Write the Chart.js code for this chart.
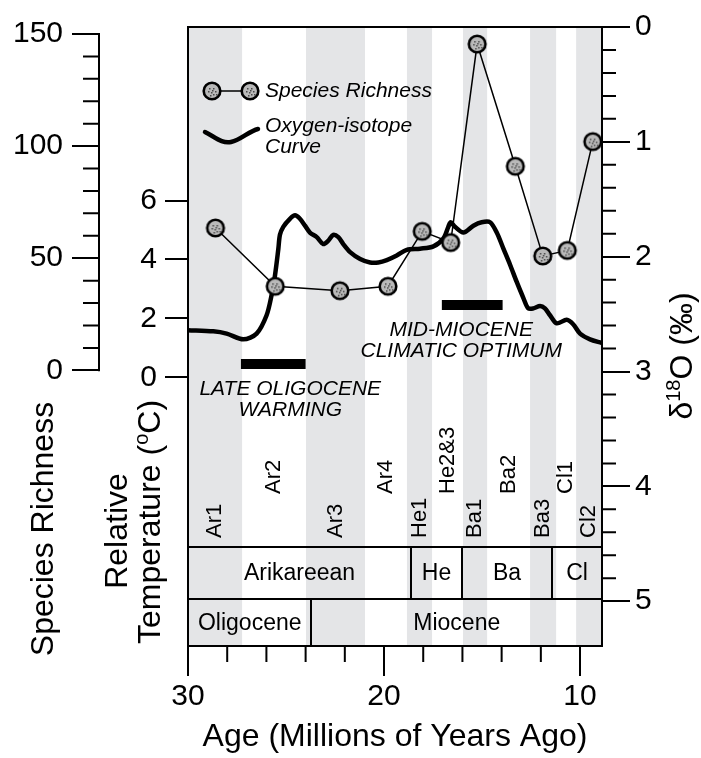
<!DOCTYPE html>
<html>
<head>
<meta charset="utf-8">
<title>Species richness and the oxygen-isotope curve, 30-9 Ma</title>
<script src="https://cdn.jsdelivr.net/npm/chart.js@4.4.1/dist/chart.umd.min.js"></script>
<style>
  html, body { margin: 0; padding: 0; background: #fff; }
  canvas { display: block; }
</style>
</head>
<body>
<canvas id="chart" width="701" height="758"></canvas>
<script>
// values (ages in Ma)
var richnessAge = [28.6, 25.55, 22.25, 19.8, 18.05, 16.6, 15.25, 13.3, 11.9, 10.65, 9.35];
var richnessValue = [63.5, 37.5, 35.5, 37.5, 62, 57, 145.5, 91, 51, 53.5, 102];

var isotopeAge = [30.0, 28.71, 28.03, 27.18, 26.5, 25.99, 25.73, 25.56, 25.39, 25.31, 25.14, 24.8, 24.54,
  24.29, 24.03, 23.78, 23.43, 23.1, 22.84, 22.59, 22.33, 22.08, 21.73, 21.22, 20.71, 20.29, 19.86, 19.35,
  18.84, 18.16, 17.48, 16.97, 16.72, 16.6, 16.38, 15.95, 15.44, 15.02, 14.59, 14.25, 13.91, 13.57, 13.23,
  12.89, 12.64, 12.38, 12.04, 11.79, 11.53, 11.19, 10.68, 10.34, 10.0, 9.49, 8.9];
var isotopeD18O = [2.64, 2.65, 2.67, 2.72, 2.67, 2.51, 2.33, 2.16, 1.93, 1.81, 1.74, 1.67, 1.64,
  1.67, 1.73, 1.79, 1.83, 1.89, 1.86, 1.81, 1.83, 1.89, 1.96, 2.02, 2.05, 2.05, 2.03, 1.99,
  1.94, 1.93, 1.91, 1.84, 1.74, 1.70, 1.74, 1.79, 1.73, 1.70, 1.70, 1.79, 1.93, 2.07, 2.22,
  2.36, 2.45, 2.45, 2.43, 2.45, 2.51, 2.58, 2.55, 2.59, 2.67, 2.72, 2.75];

// warming events
var eventNames = [["LATE OLIGOCENE", "WARMING"], ["MID-MIOCENE", "CLIMATIC OPTIMUM"]];
var eventStart = [27.3, 17.05];
var eventEnd = [24.0, 13.95];

// land mammal age subdivisions (older edge of each)
var zoneNames = ["Ar1", "Ar2", "Ar3", "Ar4", "He1", "He2&3", "Ba1", "Ba2", "Ba3", "Cl1", "Cl2"];
var zoneEdges = [30, 27.24, 23.98, 20.97, 18.83, 17.55, 15.97, 14.74, 12.55, 11.22, 10.2];
var stageNames = ["Arikareean", "He", "Ba", "Cl"];
var stageEdges = [30, 18.62, 16.02, 11.43];
var epochNames = ["Oligocene", "Miocene"];
var epochEdges = [30, 23.7];

var ageTicks = [30, 20, 10];
var tempTicks = [0, 2, 4, 6];
var richTicks = [0, 50, 100, 150];
var d18oTicks = [0, 1, 2, 3, 4, 5];

var FONT = '"Liberation Sans", Arial, sans-serif';
Chart.defaults.font.family = FONT;
Chart.defaults.color = '#000';

function onlyTicks(list) {
  return function(scale) {
    scale.ticks = list.map(function(v) { return { value: v }; });
  };
}

// speckled circle used for the richness points
function makeMarker() {
  var c = document.createElement('canvas');
  c.width = 22; c.height = 22;
  var g = c.getContext('2d');
  g.beginPath();
  g.arc(11, 11, 8.3, 0, Math.PI * 2);
  g.fillStyle = '#b9b9b9';
  g.fill();
  g.lineWidth = 2.6;
  g.strokeStyle = '#000';
  g.stroke();
  g.fillStyle = '#4a4a4a';
  [[8, 8], [12, 8], [14, 11], [10, 12], [7, 11], [12, 14], [9, 15], [15, 14], [11, 10]].forEach(function(d) {
    g.fillRect(d[0], d[1], 1.5, 1.5);
  });
  return c;
}
var marker = makeMarker();

var richnessPoints = richnessAge.map(function(a, i) { return { x: a, y: richnessValue[i] }; });
var isotopePoints = isotopeAge.map(function(a, i) { return { x: a, y: isotopeD18O[i] }; });

// event bars drawn at a fixed relative temperature
var barTemp = [0.45, 2.45];
var eventSets = eventStart.map(function(s, i) {
  return {
    label: eventNames[i].join(' '),
    data: [{ x: s, y: barTemp[i] }, { x: eventEnd[i], y: barTemp[i] }],
    yAxisID: 'yT',
    showLine: true,
    borderColor: '#000',
    borderWidth: 10,
    borderCapStyle: 'butt',
    pointRadius: 0,
    order: 1
  };
});

function drawRotated(ctx, parts, bx, cy) {
  ctx.save();
  var total = 0;
  parts.forEach(function(p) { ctx.font = p.font; p.w = ctx.measureText(p.text).width; total += p.w; });
  ctx.translate(bx, cy);
  ctx.rotate(-Math.PI / 2);
  ctx.textAlign = 'left';
  ctx.textBaseline = 'alphabetic';
  var x = -total / 2;
  parts.forEach(function(p) {
    ctx.font = p.font;
    ctx.fillText(p.text, x, p.rise ? -p.rise : 0);
    x += p.w;
  });
  ctx.restore();
}

var figurePlugin = {
  id: 'figure',
  beforeDraw: function(chart) {
    var ctx = chart.ctx, a = chart.chartArea, xs = chart.scales.x;
    ctx.save();
    ctx.fillStyle = '#fff';
    ctx.fillRect(0, 0, chart.width, chart.height);
    ctx.fillStyle = '#e4e5e7';
    for (var i = 0; i < zoneEdges.length; i += 2) {
      var x0 = xs.getPixelForValue(zoneEdges[i]);
      var x1 = xs.getPixelForValue(i + 1 < zoneEdges.length ? zoneEdges[i + 1] : xs.min);
      ctx.fillRect(x0, a.top, x1 - x0, a.bottom - a.top);
    }
    ctx.restore();
  },
  afterDraw: function(chart) {
    var ctx = chart.ctx, a = chart.chartArea, xs = chart.scales.x;
    var yR = chart.scales.yR, yD = chart.scales.yD;
    ctx.save();
    ctx.strokeStyle = '#000';
    ctx.fillStyle = '#000';
    ctx.lineWidth = 2;

    // top frame
    ctx.beginPath();
    ctx.moveTo(a.left, a.top);
    ctx.lineTo(a.right, a.top);
    ctx.stroke();

    // stage and epoch rows
    var r1 = a.bottom - 99, r2 = a.bottom - 47;
    ctx.beginPath();
    ctx.moveTo(a.left, r1); ctx.lineTo(a.right, r1);
    ctx.moveTo(a.left, r2); ctx.lineTo(a.right, r2);
    stageEdges.slice(1).forEach(function(e) {
      var x = Math.round(xs.getPixelForValue(e));
      ctx.moveTo(x, r1); ctx.lineTo(x, r2);
    });
    epochEdges.slice(1).forEach(function(e) {
      var x = Math.round(xs.getPixelForValue(e));
      ctx.moveTo(x, r2); ctx.lineTo(x, a.bottom);
    });
    ctx.stroke();

    ctx.font = '23px ' + FONT;
    ctx.textAlign = 'center';
    ctx.textBaseline = 'middle';
    stageNames.forEach(function(n, i) {
      var e = i + 1 < stageEdges.length ? stageEdges[i + 1] : xs.min;
      var cx = (xs.getPixelForValue(stageEdges[i]) + xs.getPixelForValue(e)) / 2;
      ctx.fillText(n, cx, (r1 + r2) / 2 + 1);
    });
    epochNames.forEach(function(n, i) {
      var e = i + 1 < epochEdges.length ? epochEdges[i + 1] : xs.min;
      var cx = (xs.getPixelForValue(epochEdges[i]) + xs.getPixelForValue(e)) / 2;
      ctx.fillText(n, cx, (r2 + a.bottom) / 2 + 1);
    });

    // subdivision labels, rotated
    ctx.font = '22px ' + FONT;
    zoneNames.forEach(function(n, i) {
      var e = i + 1 < zoneEdges.length ? zoneEdges[i + 1] : xs.min;
      var cx = (xs.getPixelForValue(zoneEdges[i]) + xs.getPixelForValue(e)) / 2;
      var by = i % 2 === 0 ? a.bottom - 108 : a.bottom - 152;
      ctx.save();
      ctx.translate(cx, by);
      ctx.rotate(-Math.PI / 2);
      ctx.textAlign = 'left';
      ctx.textBaseline = 'middle';
      ctx.fillText(n, 0, 0);
      ctx.restore();
    });

    // event captions under the bars
    ctx.font = 'italic 21px ' + FONT;
    ctx.textAlign = 'center';
    var shift = [17, -11];
    eventNames.forEach(function(lines, i) {
      var pts = chart.getDatasetMeta(i + 2).data;
      var cx = (pts[0].x + pts[1].x) / 2 + shift[i];
      var cy = pts[0].y;
      ctx.fillText(lines[0], cx, cy + 25);
      ctx.fillText(lines[1], cx, cy + 46);
    });

    // richness axis line and minor ticks
    var rx = yR.right;
    ctx.beginPath();
    ctx.moveTo(rx, yR.getPixelForValue(0) + 1);
    ctx.lineTo(rx, yR.getPixelForValue(150) - 1);
    for (var v = 10; v < 150; v += 10) {
      if (v % 50 === 0) continue;
      var py = yR.getPixelForValue(v);
      ctx.moveTo(rx - 16, py); ctx.lineTo(rx, py);
    }
    // age minor ticks
    for (var g = 28; g >= 12; g -= 2) {
      if (g % 10 === 0) continue;
      var gx = xs.getPixelForValue(g);
      ctx.moveTo(gx, a.bottom); ctx.lineTo(gx, a.bottom + 16);
    }
    // d18O minor ticks
    for (var k = 1; k < 25; k++) {
      if (k % 5 === 0) continue;
      var dy = yD.getPixelForValue(k * 0.2);
      ctx.moveTo(a.right, dy); ctx.lineTo(a.right + 14, dy);
    }
    ctx.stroke();

    // legend
    ctx.lineWidth = 1.5;
    ctx.beginPath();
    ctx.moveTo(212, 91); ctx.lineTo(250, 91);
    ctx.stroke();
    ctx.drawImage(marker, 212 - 11, 91 - 11);
    ctx.drawImage(marker, 250 - 11, 91 - 11);
    ctx.lineWidth = 4.5;
    ctx.lineCap = 'round';
    ctx.beginPath();
    ctx.moveTo(205, 132);
    ctx.bezierCurveTo(215, 137, 222, 144, 231, 142);
    ctx.bezierCurveTo(241, 140, 249, 131, 258, 129);
    ctx.stroke();
    ctx.font = 'italic 21px ' + FONT;
    ctx.textAlign = 'left';
    ctx.textBaseline = 'middle';
    ctx.fillText('Species Richness', 265, 91);
    ctx.fillText('Oxygen-isotope', 265, 126);
    ctx.fillText('Curve', 265, 147);

    // vertical axis titles
    var big = '32px ' + FONT, sup = '20px ' + FONT;
    drawRotated(ctx, [{ text: 'Species Richness', font: big }], 53, 529);
    drawRotated(ctx, [{ text: 'Relative', font: big }], 127, 531);
    drawRotated(ctx, [{ text: 'Temperature (', font: big }, { text: 'o', font: sup, rise: 12 },
      { text: 'C)', font: big }], 160, 522);
    drawRotated(ctx, [{ text: '\u03b4', font: big }, { text: '18', font: sup, rise: 12 },
      { text: 'O (\u2030)', font: big }], 692, 356);
    ctx.restore();
  }
};

var numFont = { family: FONT, size: 30 };

new Chart(document.getElementById('chart'), {
  type: 'scatter',
  data: {
    datasets: [
      {
        label: 'Species Richness',
        data: richnessPoints,
        yAxisID: 'yR',
        showLine: true,
        borderColor: '#000',
        borderWidth: 1.5,
        pointStyle: marker,
        pointRadius: 9,
        order: 0
      },
      {
        label: 'Oxygen-isotope Curve',
        data: isotopePoints,
        yAxisID: 'yD',
        showLine: true,
        borderColor: '#000',
        borderWidth: 4.5,
        borderJoinStyle: 'round',
        tension: 0.3,
        pointRadius: 0,
        order: 2
      }
    ].concat(eventSets)
  },
  options: {
    responsive: false,
    animation: false,
    devicePixelRatio: 1,
    layout: { padding: { top: 24, left: 0, right: 0, bottom: 0 } },
    plugins: { legend: { display: false }, tooltip: { enabled: false } },
    scales: {
      x: {
        type: 'linear', position: 'bottom', reverse: true, min: 8.88, max: 30,
        afterBuildTicks: onlyTicks(ageTicks),
        afterFit: function(s) { s.height = 112; },
        grid: { drawOnChartArea: false, tickLength: 30, tickWidth: 2, tickColor: '#000', color: '#000', lineWidth: 2 },
        border: { display: true, color: '#000', width: 2 },
        ticks: { font: numFont, color: '#000', padding: 3, maxRotation: 0, autoSkip: false },
        title: { display: true, text: 'Age (Millions of Years Ago)', font: { family: FONT, size: 32 }, color: '#000', padding: { top: 0, bottom: 2 } }
      },
      yT: {
        type: 'linear', position: 'left', weight: 0, min: -9.12, max: 11.89,
        afterBuildTicks: onlyTicks(tempTicks),
        afterFit: function(s) { s.width = 89; },
        grid: { drawOnChartArea: false, tickLength: 23, tickWidth: 2, tickColor: '#000', color: '#000', lineWidth: 2 },
        border: { display: true, color: '#000', width: 2 },
        ticks: { font: numFont, color: '#000', padding: 8, autoSkip: false }
      },
      yR: {
        type: 'linear', position: 'left', weight: 1, min: -122.9, max: 153.1,
        afterBuildTicks: onlyTicks(richTicks),
        afterFit: function(s) { s.width = 99; },
        grid: { drawOnChartArea: false, tickLength: 27, tickWidth: 2, tickColor: '#000', color: '#000', lineWidth: 2 },
        border: { display: false },
        ticks: { font: numFont, color: '#000', padding: 9, autoSkip: false }
      },
      yD: {
        type: 'linear', position: 'right', min: 0, max: 5.39, reverse: true,
        afterBuildTicks: onlyTicks(d18oTicks),
        afterFit: function(s) { s.width = 99; },
        grid: { drawOnChartArea: false, tickLength: 28, tickWidth: 2, tickColor: '#000', color: '#000', lineWidth: 2 },
        border: { display: true, color: '#000', width: 2 },
        ticks: { font: numFont, color: '#000', padding: 5, autoSkip: false }
      }
    }
  },
  plugins: [figurePlugin]
});
</script>
</body>
</html>
